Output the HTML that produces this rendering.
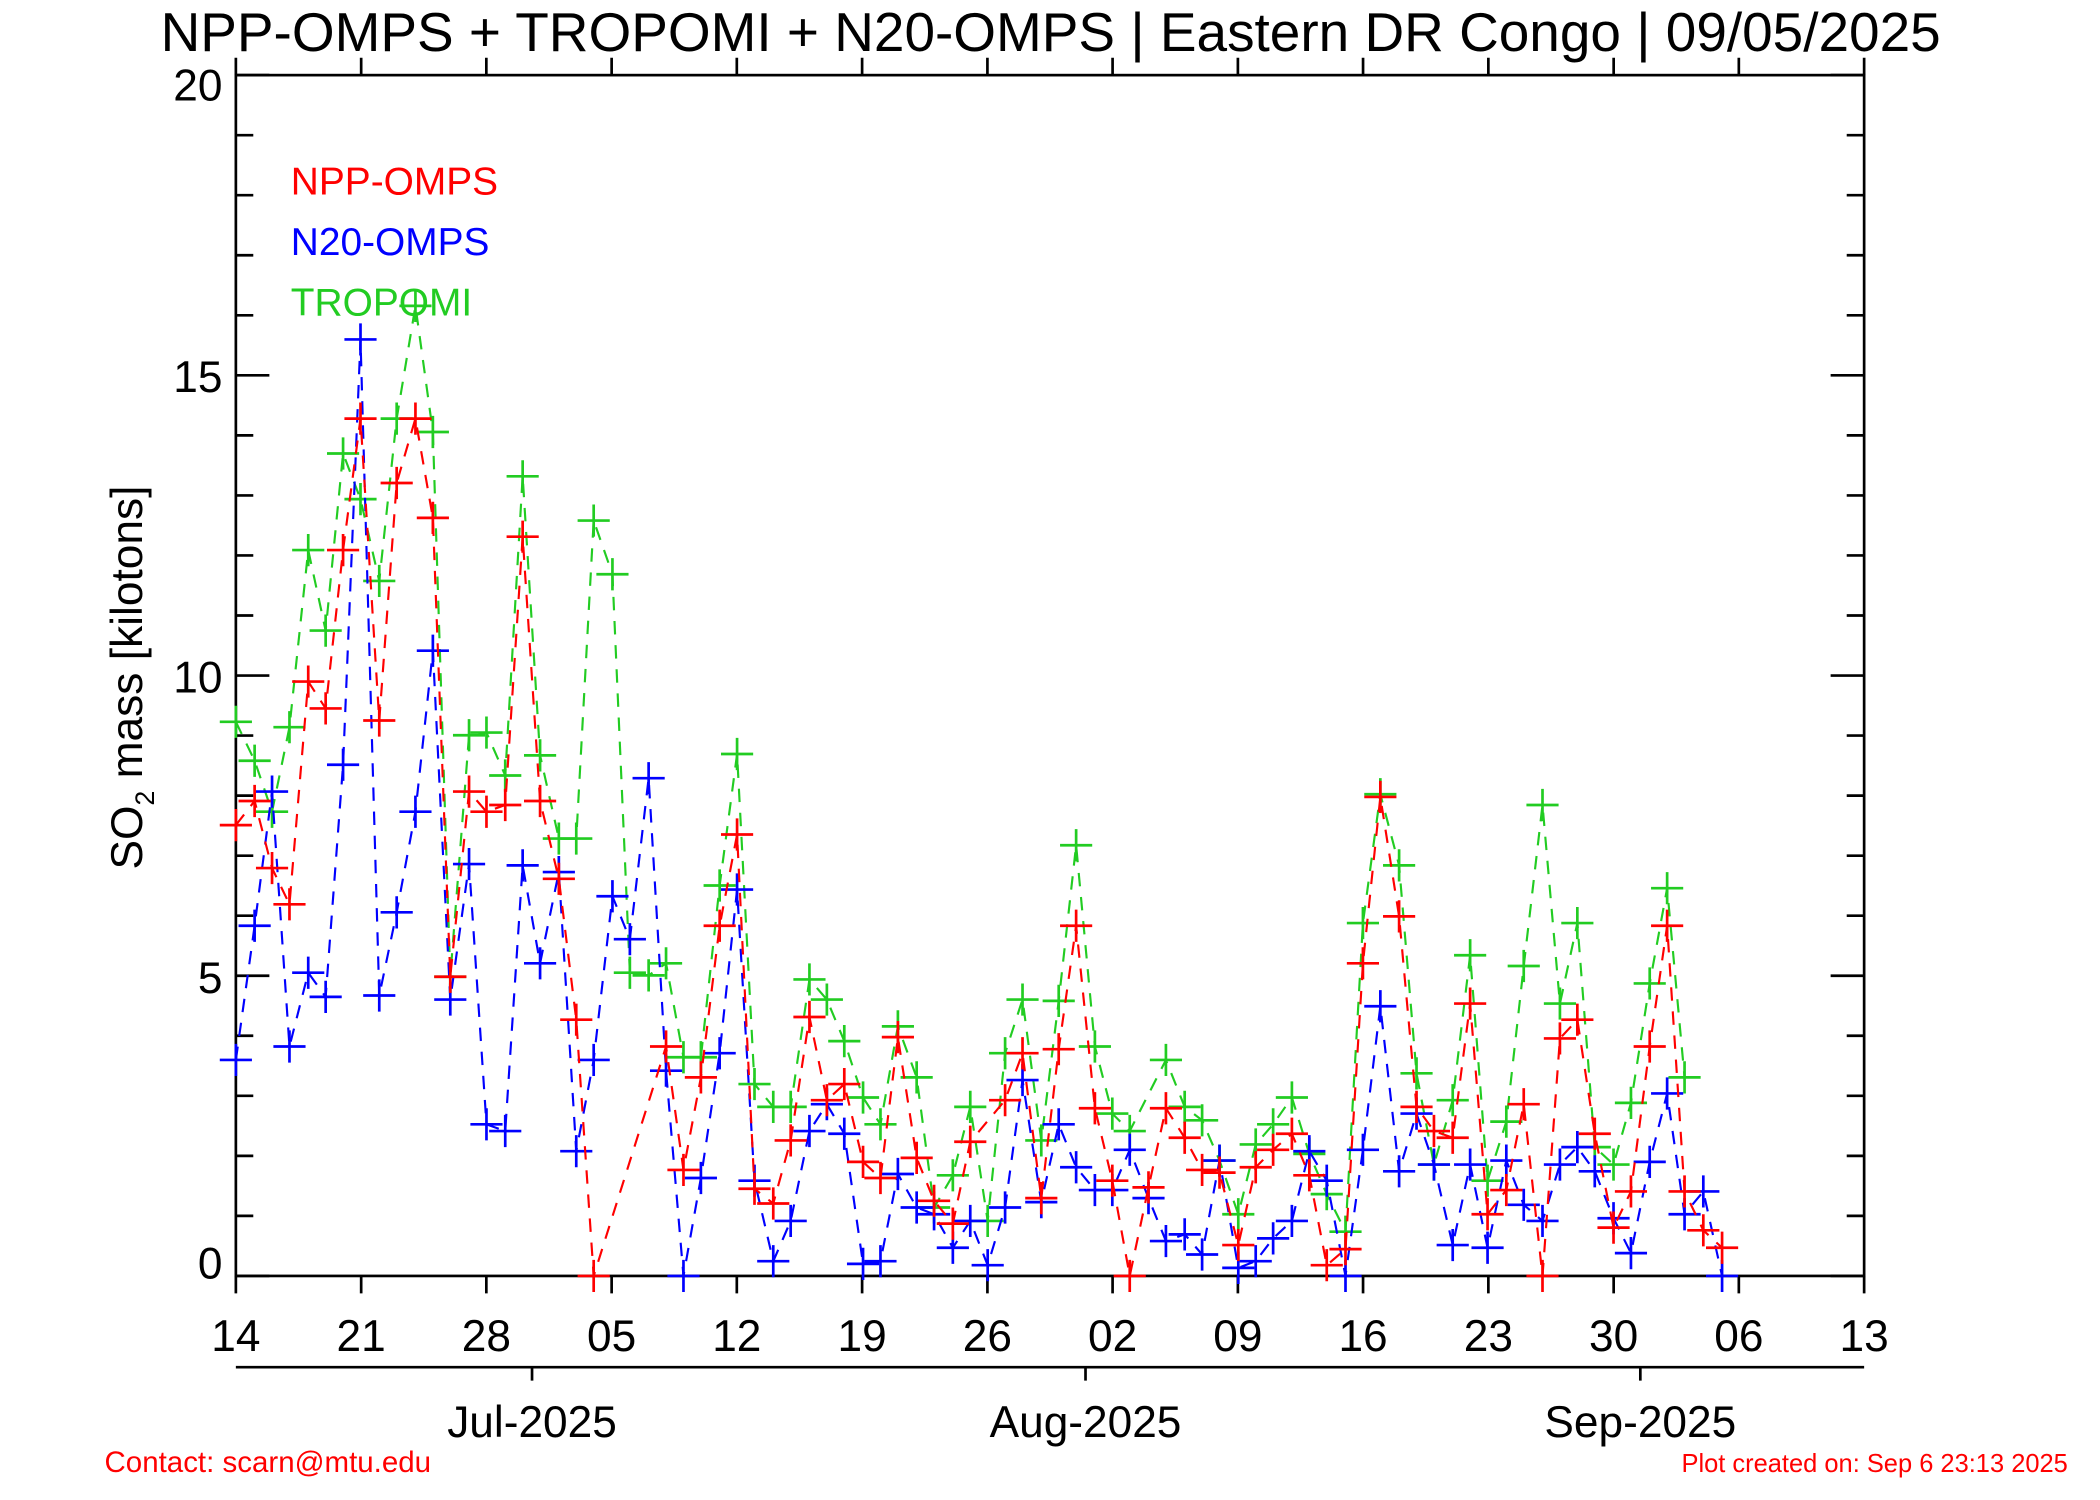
<!DOCTYPE html>
<html><head><meta charset="utf-8"><style>
html,body{margin:0;padding:0;background:#fff;}
svg{display:block;}
text{font-family:"Liberation Sans",sans-serif;}
</style></head><body>
<svg width="2100" height="1500" viewBox="0 0 1567 1118" preserveAspectRatio="none" xmlns="http://www.w3.org/2000/svg">
<defs>
<marker id="pr" markerUnits="userSpaceOnUse" markerWidth="26" markerHeight="26" refX="13" refY="13" overflow="visible"><path d="M1 13H25M13 1V25" stroke="#f00" stroke-width="2" fill="none"/></marker>
<marker id="pb" markerUnits="userSpaceOnUse" markerWidth="26" markerHeight="26" refX="13" refY="13" overflow="visible"><path d="M1 13H25M13 1V25" stroke="#00f" stroke-width="2" fill="none"/></marker>
<marker id="pg" markerUnits="userSpaceOnUse" markerWidth="26" markerHeight="26" refX="13" refY="13" overflow="visible"><path d="M1 13H25M13 1V25" stroke="#22cc22" stroke-width="2" fill="none"/></marker>
</defs>
<text x="784" y="38" font-size="41" text-anchor="middle">NPP-OMPS + TROPOMI + N20-OMPS | Eastern DR Congo | 09/05/2025</text>
<g stroke="#000" stroke-width="2" fill="none">
<rect x="176" y="56" width="1215" height="895"/>
<path d="M176 56h25M176 100.75h13M176 145.5h13M176 190.25h13M176 235h13M176 279.75h25M176 324.5h13M176 369.25h13M176 414h13M176 458.75h13M176 503.5h25M176 548.25h13M176 593h13M176 637.75h13M176 682.5h13M176 727.25h25M176 772h13M176 816.75h13M176 861.5h13M176 906.25h13M176 951h25"/>
<path d="M1391 56h-25M1391 100.75h-13M1391 145.5h-13M1391 190.25h-13M1391 235h-13M1391 279.75h-25M1391 324.5h-13M1391 369.25h-13M1391 414h-13M1391 458.75h-13M1391 503.5h-25M1391 548.25h-13M1391 593h-13M1391 637.75h-13M1391 682.5h-13M1391 727.25h-25M1391 772h-13M1391 816.75h-13M1391 861.5h-13M1391 906.25h-13M1391 951h-25"/>
<path d="M176 56v-13M269.5 56v-13M362.9 56v-13M456.4 56v-13M549.8 56v-13M643.3 56v-13M736.8 56v-13M830.2 56v-13M923.7 56v-13M1017.1 56v-13M1110.6 56v-13M1204.1 56v-13M1297.5 56v-13M1391 56v-13"/>
<path d="M176 951v13M269.5 951v13M362.9 951v13M456.4 951v13M549.8 951v13M643.3 951v13M736.8 951v13M830.2 951v13M923.7 951v13M1017.1 951v13M1110.6 951v13M1204.1 951v13M1297.5 951v13M1391 951v13"/>
<path d="M176 1019H1391M397 1019v10M810 1019v10M1224 1019v10"/>
</g>
<g font-size="33" text-anchor="end">
<text x="166" y="75">20</text><text x="166" y="292">15</text><text x="166" y="516">10</text><text x="166" y="740">5</text><text x="166" y="953">0</text>
</g>
<g font-size="33" text-anchor="middle">
<text x="176" y="1007">14</text><text x="269.5" y="1007">21</text><text x="362.9" y="1007">28</text><text x="456.4" y="1007">05</text><text x="549.8" y="1007">12</text><text x="643.3" y="1007">19</text><text x="736.8" y="1007">26</text><text x="830.2" y="1007">02</text><text x="923.7" y="1007">09</text><text x="1017.1" y="1007">16</text><text x="1110.6" y="1007">23</text><text x="1204.1" y="1007">30</text><text x="1297.5" y="1007">06</text><text x="1391" y="1007">13</text>
<text x="397" y="1071">Jul-2025</text><text x="810" y="1071">Aug-2025</text><text x="1224" y="1071">Sep-2025</text>
</g>
<text transform="translate(106,505) rotate(-90)" font-size="33" text-anchor="middle">SO<tspan font-size="20" dy="9">2</tspan><tspan dy="-9"> mass [kilotons]</tspan></text>
<g font-size="29">
<text x="217" y="145" fill="#f00">NPP-OMPS</text>
<text x="217" y="190" fill="#00f">N20-OMPS</text>
<text x="217" y="235" fill="#22cc22">TROPOMI</text>
</g>
<text x="78" y="1097" font-size="22" fill="#f00">Contact: scarn@mtu.edu</text>
<text x="1543" y="1097" font-size="19" fill="#f00" text-anchor="end">Plot created on: Sep  6 23:13 2025</text>
<g fill="none" stroke-width="1.6" stroke-dasharray="10,8">
<polyline stroke="#22cc22" marker-start="url(#pg)" marker-mid="url(#pg)" marker-end="url(#pg)" points="176,538 190,567 203,605 216,542 230,410 243,470 256,338 269,372 283,433 296,312 310,228 323,322 336,728 350,548 363,546 377,578 390,355 403,563 417,625 430,625 443,388 457,428 470,725 484,727 497,718 510,788 523,788 537,660 550,562 563,808 577,825 590,825 604,730 617,745 630,776 644,818 657,838 670,765 684,803 697,900 711,876 724,825 737,910 750,785 763,745 777,850 790,746 803,630 817,780 830,830 843,843 870,790 884,825 897,835 910,865 924,905 937,853 950,838 964,818 977,860 990,890 1004,918 1017,688 1030,592 1044,645 1057,800 1070,868 1084,820 1097,712 1110,880 1124,836 1137,720 1151,600 1164,748 1177,688 1190,855 1204,868 1217,822 1231,733 1244,662 1257,803"/>
<polyline stroke="#00f" marker-start="url(#pb)" marker-mid="url(#pb)" marker-end="url(#pb)" points="176,790 190,690 203,590 216,780 230,725 243,743 256,570 269,253 283,742 296,680 310,605 323,485 336,745 350,644 363,838 377,843 390,645 403,718 417,650 430,858 443,790 457,668 470,700 484,580 497,798 510,951 523,878 537,785 550,663 563,880 577,940 590,910 604,843 617,823 630,845 644,942 657,940 670,875 684,900 697,905 711,930 724,910 737,943 750,900 763,805 777,896 790,838 803,870 817,887 830,887 843,857 857,893 870,925 884,920 897,935 910,865 924,945 937,940 950,923 964,910 977,858 990,880 1004,951 1017,857 1030,750 1044,873 1057,830 1070,868 1084,928 1097,868 1110,930 1124,865 1137,898 1151,910 1164,868 1177,855 1190,873 1204,908 1217,934 1231,866 1244,815 1257,905 1271,888 1285,951"/>
<polyline stroke="#f00" marker-start="url(#pr)" marker-mid="url(#pr)" marker-end="url(#pr)" points="176,615 190,597 203,647 216,674 230,508 243,528 256,410 269,312 283,537 296,360 310,312 323,386 336,728 350,590 363,605 377,600 390,400 403,597 417,655 430,760 443,951 497,780 510,872 523,803 537,690 550,622 563,886 577,897 590,850 604,758 617,820 630,808 644,866 657,878 670,773 684,863 697,895 711,912 724,851 750,820 763,785 777,893 790,782 803,690 817,826 830,880 843,951 857,885 870,826 884,848 897,872 910,874 924,928 937,870 950,857 964,845 977,876 990,943 1004,931 1017,718 1030,594 1044,683 1057,825 1070,843 1084,848 1097,748 1110,905 1124,887 1137,823 1151,951 1164,774 1177,760 1190,845 1204,915 1217,888 1231,780 1244,690 1257,888 1271,917 1285,930"/>
</g>
</svg>
</body></html>
